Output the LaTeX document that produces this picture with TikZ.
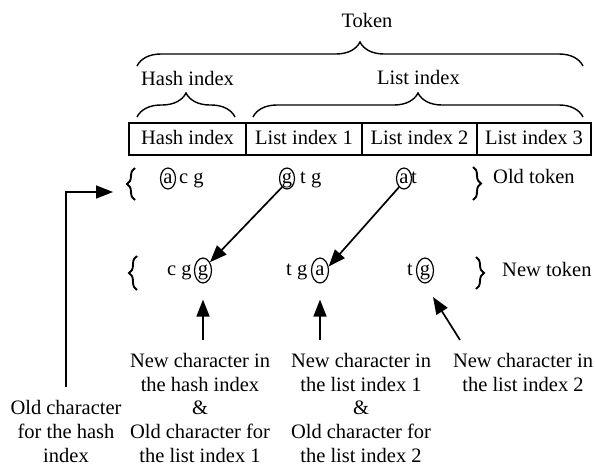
\documentclass[tikz,border=0pt]{standalone}
\usepackage{fontspec}
\setmainfont{Liberation Serif}
\usetikzlibrary{decorations.pathreplacing,arrows.meta,shapes.geometric}

\begin{document}
\begin{tikzpicture}[x=1pt,y=-1pt,
  txt/.style={font=\fontsize{20.5}{23.6}\selectfont, inner sep=0pt, anchor=base},
  blk/.style={txt, align=center},
  cell/.style={draw, line width=1.8pt, rectangle, inner sep=0pt, outer sep=0pt,
    minimum height=32pt, text height=14pt, text depth=4pt,
    font=\fontsize{20.5}{23.6}\selectfont},
  circold/.style={draw, ellipse, line width=1.2pt, inner sep=0pt,
    minimum width=15pt, minimum height=21pt, text height=9pt, text depth=0pt,
    anchor=base, font=\fontsize{20.5}{23.6}\selectfont},
  circnew/.style={circold, minimum width=17pt, minimum height=25pt},
  brc/.style={decorate, decoration={brace, amplitude=24pt}, line width=1.4pt},
  rowbrc/.style={decorate, decoration={brace, amplitude=8pt}, line width=1.9pt},
  arr/.style={line width=1.7pt, -{Triangle[length=17pt,width=13pt]}}
]
\useasboundingbox (0,0) rectangle (595,469);

% upper labels and braces
\node[txt] (tok) at (367,27) {Token};
\node[txt] (hlab) at (187.5,85) {Hash index};
\node[txt] (llab) at (418.5,84) {List index};

\coordinate (tkL) at (137,66);
\coordinate (tkR) at (583,66);
\coordinate (hsL) at (137,117);
\coordinate (hsR) at (235,117);
\coordinate (lsL) at (253,117);
\coordinate (lsR) at (583,117);
\draw[brc] (tkL) -- (tkR);
\draw[brc] (hsL) -- (hsR);
\draw[brc] (lsL) -- (lsR);

% token fields
\node[cell, minimum width=117pt] (c1) at (187.5,139) {Hash index};
\node[cell, minimum width=116pt] (c2) at (304,139) {List index 1};
\node[cell, minimum width=115pt] (c3) at (419.5,139) {List index 2};
\node[cell, minimum width=114pt] (c4) at (534,139) {List index 3};

% old token
\coordinate (obLb) at (135,200);
\coordinate (obLt) at (135,168);
\coordinate (obRt) at (473,167);
\coordinate (obRb) at (473,200);
\draw[rowbrc] (obLb) -- (obLt);
\draw[rowbrc] (obRt) -- (obRb);
\node[circold] (oA) at (168,183) {a};
\node[txt, anchor=base west] (oA1) at (179,183) {c g};
\node[circold] (oG) at (287,183) {g};
\node[txt, anchor=base west] (oG1) at (300,183) {t g};
\node[circold] (oA2) at (404,183) {a};
\node[txt, anchor=base west] (oA21) at (411,183) {t};
\node[txt, anchor=base west] (olab) at (493,183) {Old token};

% new token
\coordinate (nbLb) at (137,290);
\coordinate (nbLt) at (137,256);
\coordinate (nbRt) at (476,257);
\coordinate (nbRb) at (476,289);
\draw[rowbrc] (nbLb) -- (nbLt);
\draw[rowbrc] (nbRt) -- (nbRb);
\node[txt, anchor=base west] (nG0) at (167,275) {c g};
\node[circnew] (nG) at (203,275) {g};
\node[txt, anchor=base west] (nA0) at (286,275) {t g};
\node[circnew] (nA) at (320,275) {a};
\node[txt, anchor=base west] (nG20) at (407,275) {t};
\node[circnew] (nG2) at (425,275) {g};
\node[txt, anchor=base west] (nlab) at (502,276) {New token};

% moved characters
\draw[arr] (oG.240) -- (nG.50);
\draw[arr] (oA2.240) -- (nA.25);

% explanations (anchored at the baseline of their last line)
\node[blk] (b1) at (66,462) {Old character\\for the hash\\index};
\node[blk] (b2) at (200,462) {New character in\\the hash index\\\&\\Old character for\\the list index 1};
\node[blk] (b3) at (361,462) {New character in\\the list index 1\\\&\\Old character for\\the list index 2};
\node[blk] (b4) at (523,391) {New character in\\the list index 2};

\coordinate (u1) at (203,340);
\coordinate (u2) at (320,340);
\coordinate (u3) at (460,340);
\draw[arr, shorten >=16pt] (u1) -- (nG.south);
\draw[arr, shorten >=16pt] (u2) -- (nA.south);
\draw[arr] (u3) -- (433,297);

\coordinate (lb) at (66,387);
\coordinate (lt) at (113,192);
\draw[arr] (lb) |- (lt);
\end{tikzpicture}
\end{document}
